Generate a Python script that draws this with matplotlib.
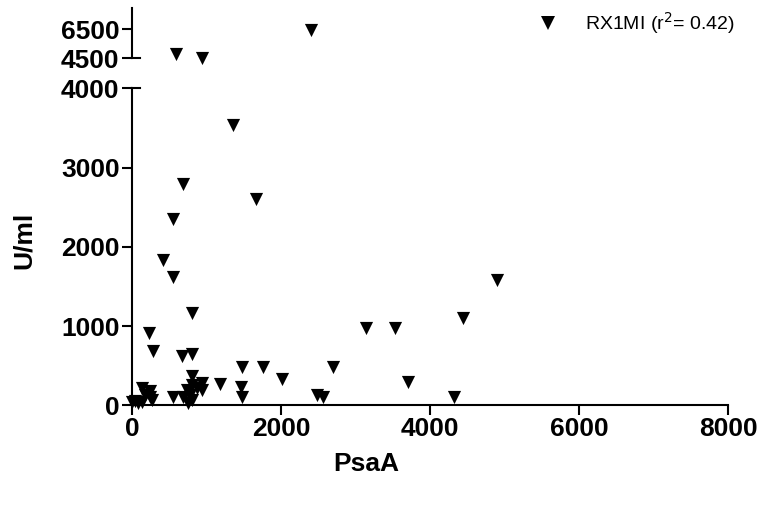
import matplotlib.pyplot as plt
from matplotlib.lines import Line2D

plt.rcParams['font.family'] = ['Liberation Sans', 'DejaVu Sans']

# PsaA vs U/ml (RX1MI)
psaa = [587, 935, 2403,
        1351, 680, 1669, 546, 420, 546, 805,
        232, 286, 671, 801, 801, 1472, 1181, 1459, 1472,
        935, 935, 801, 868, 734, 778, 801, 756, 555, 689,
        130, 242, 242, 264, 174, 40, 85, 130, 0,
        1763, 2018, 2694, 2488, 2568,
        3141, 3530, 4447, 3709, 4322, 4895]
uml = [4780, 4520, 6480,
       3540, 2800, 2610, 2350, 1840, 1620, 1170,
       914, 690, 627, 648, 373, 491, 272, 238, 111,
       281, 196, 259, 218, 196, 133, 70, 28, 111, 111,
       218, 187, 111, 70, 133, 61, 28, 48, 48,
       491, 331, 491, 133, 111,
       977, 977, 1104, 301, 111, 1580]

series_label = 'RX1MI (r$^2$= 0.42)'
x_ticks = [0, 2000, 4000, 6000, 8000]
y_ticks_low = [0, 1000, 2000, 3000, 4000]
y_ticks_high = [4500, 6500]

low = [(x, y) for x, y in zip(psaa, uml) if y <= 4000]
high = [(x, y) for x, y in zip(psaa, uml) if y >= 4500]

fig = plt.figure(figsize=(7.64, 5.08), dpi=100)
ax = fig.add_axes([0.1728, 0.2018, 0.7801, 0.624])
ax_top = fig.add_axes([0.1728, 0.8858, 0.7801, 0.0985])

for a, pts in ((ax, low), (ax_top, high)):
    a.scatter([p[0] for p in pts], [p[1] for p in pts], marker='v', s=90, color='black',
              linewidths=0, clip_on=False, zorder=3)
    a.set_xlim(0, 8000)
    a.spines['top'].set_visible(False)
    a.spines['right'].set_visible(False)
    a.spines['left'].set_linewidth(1.5)
    a.spines['bottom'].set_linewidth(1.5)
    a.tick_params(width=1.5, length=7, labelsize=19, pad=2)
    a.patch.set_alpha(0)

ax.set_ylim(0, 4000)
ax.set_xticks(x_ticks)
ax.set_yticks(y_ticks_low)
ax.set_xticklabels([str(v) for v in x_ticks], fontweight='bold')
ax.set_yticklabels([str(v) for v in y_ticks_low], fontweight='bold')
ax.tick_params(axis='x', pad=1)

ax_top.set_ylim(4500, 8000)
ax_top.set_yticks(y_ticks_high)
ax_top.set_yticklabels([str(v) for v in y_ticks_high], fontweight='bold')
ax_top.spines['bottom'].set_visible(False)
ax_top.set_xticks([])

# break marks
ax.plot([0, 0.013], [1, 1], transform=ax.transAxes, color='black', lw=1.5, clip_on=False)
ax_top.plot([0, 0.013], [0, 0], transform=ax_top.transAxes, color='black', lw=1.5, clip_on=False)

fig.text(366 / 764, 1 - 464 / 508, 'PsaA', ha='center', va='center', fontsize=19, fontweight='bold')
fig.text(24 / 764, 1 - 240 / 508, 'U/ml', ha='center', va='center', rotation=90, fontsize=19, fontweight='bold')

handle = Line2D([], [], marker='v', linestyle='none', color='black', markersize=9.5, markeredgewidth=0)
fig.legend([handle], [series_label], loc='center left', bbox_to_anchor=(538 / 764, 1 - 23 / 508),
           frameon=False, fontsize=14, borderpad=0, borderaxespad=0, handlelength=1.0, handletextpad=1.4)

fig.savefig('out.png', dpi=100)
